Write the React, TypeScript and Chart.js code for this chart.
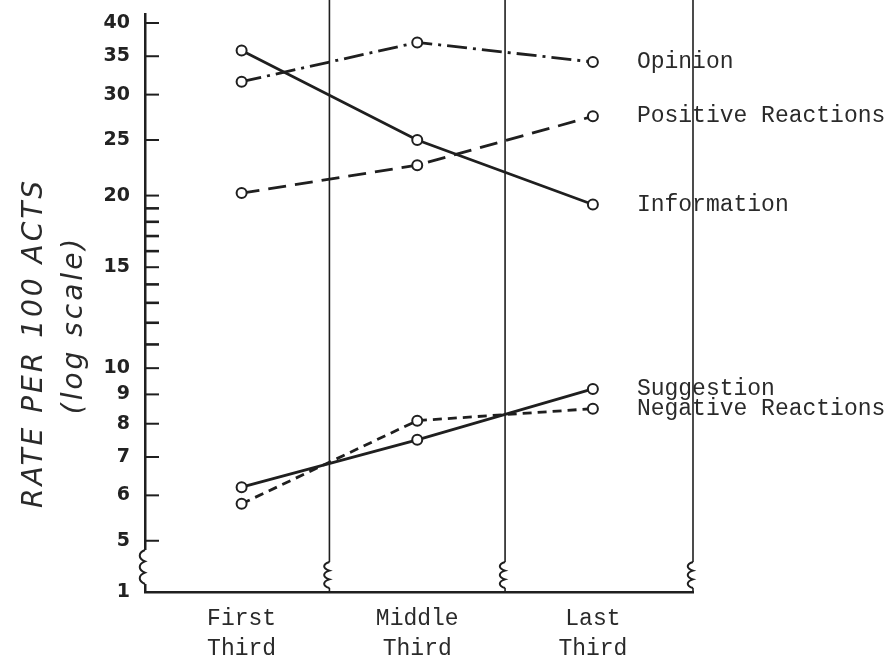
import React, { useEffect, useRef } from "react";
import { Chart, registerables } from "chart.js";

Chart.register(...registerables);

// ---- data ----
const categories = [
  ["First", "Third"],
  ["Middle", "Third"],
  ["Last", "Third"],
];
const opinion = [31.6, 37.0, 34.2];
const positiveReactions = [20.2, 22.6, 27.5];
const information = [35.8, 25.0, 19.3];
const suggestion = [6.2, 7.5, 9.2];
const negativeReactions = [5.8, 8.1, 8.5];

const yLabeledTicks = [5, 6, 7, 8, 9, 10, 15, 20, 25, 30, 35, 40];
const yMinorTicks = [11, 12, 13, 14, 16, 17, 18, 19];
const yBreakLabel = "1";
const yTitle = "RATE PER 100 ACTS";
const ySubTitle = "(log scale)";

const Y_MIN = 4.07;
const Y_MAX = 41.47;
const X_MIN = 0.45;
const X_MAX = 3.57;
const INK = "#1f1f1f";

function breakMark(ctx: CanvasRenderingContext2D, x: number, y0: number, y1: number) {
  ctx.save();
  ctx.fillStyle = "#ffffff";
  ctx.fillRect(x - 4, y0, 8, y1 - y0);
  ctx.strokeStyle = INK;
  ctx.lineWidth = 2;
  ctx.beginPath();
  ctx.moveTo(x, y0);
  const n = 3;
  const h = (y1 - y0) / n;
  for (let i = 0; i < n; i++) {
    const a = y0 + i * h;
    ctx.bezierCurveTo(x - 7, a + h * 0.25, x - 7, a + h * 0.75, x, a + h);
  }
  ctx.stroke();
  ctx.restore();
}

const decorPlugin = {
  id: "decor",
  beforeDatasetsDraw(chart: any) {
    const { ctx, chartArea } = chart;
    const xs = chart.scales.x;
    const ys = chart.scales.y;
    ctx.save();
    // inward tick marks on the y axis
    ctx.strokeStyle = INK;
    ys.ticks.forEach((t: any) => {
      if (Math.abs(t.value - Y_MIN) < 1e-6) return;
      const y = ys.getPixelForValue(t.value);
      const labeled = yLabeledTicks.includes(t.value);
      ctx.lineWidth = labeled ? 2 : 2.6;
      ctx.beginPath();
      ctx.moveTo(chartArea.left, y);
      ctx.lineTo(chartArea.left + 14, y);
      ctx.stroke();
    });
    // vertical divider lines between thirds
    ctx.lineWidth = 1.6;
    [1.5, 2.5, X_MAX].forEach((v) => {
      const x = xs.getPixelForValue(v);
      ctx.beginPath();
      ctx.moveTo(x, 0);
      ctx.lineTo(x, chartArea.bottom);
      ctx.stroke();
    });
    ctx.restore();
    // axis break marks
    breakMark(ctx, chartArea.left, chartArea.bottom - 42, chartArea.bottom - 8);
    [1.5, 2.5, X_MAX].forEach((v) => {
      breakMark(ctx, xs.getPixelForValue(v), chartArea.bottom - 30, chartArea.bottom - 4);
    });
  },
  afterDatasetsDraw(chart: any) {
    const { ctx } = chart;
    ctx.save();
    ctx.font = '23px "Liberation Mono"';
    ctx.fillStyle = "#2a2a2a";
    ctx.textAlign = "left";
    ctx.textBaseline = "middle";
    chart.data.datasets.forEach((ds: any, i: number) => {
      const meta = chart.getDatasetMeta(i);
      const last = meta.data[meta.data.length - 1];
      ctx.fillText(ds.label, last.x + 44, last.y);
    });
    ctx.restore();
  },
  afterDraw(chart: any) {
    const { ctx, chartArea } = chart;
    const mid = (chartArea.top + chartArea.bottom) / 2;
    ctx.save();
    ctx.fillStyle = "#2a2a2a";
    ctx.textAlign = "center";
    ctx.textBaseline = "middle";
    (ctx as any).letterSpacing = "3px";
    ctx.save();
    ctx.translate(chartArea.left - 110, mid + 40);
    ctx.rotate(-Math.PI / 2);
    ctx.font = 'italic 28px "DejaVu Sans"';
    ctx.fillText(yTitle, 0, 0);
    ctx.restore();
    ctx.save();
    ctx.translate(chartArea.left - 70, mid + 22);
    ctx.rotate(-Math.PI / 2);
    ctx.font = 'italic 28px "DejaVu Sans"';
    ctx.fillText(ySubTitle, 0, 0);
    ctx.restore();
    ctx.restore();
  },
};

export default function App() {
  const ref = useRef<HTMLCanvasElement>(null);
  useEffect(() => {
    const canvas = ref.current;
    if (!canvas) return;
    const mk = (label: string, values: number[], dash: number[]) => ({
      label,
      data: values.map((y, i) => ({ x: i + 1, y })),
      borderColor: INK,
      borderWidth: 2.8,
      borderDash: dash,
      pointRadius: 5,
      pointBorderWidth: 2,
      pointBackgroundColor: "#ffffff",
      pointBorderColor: INK,
      fill: false,
      tension: 0,
    });
    const chart = new Chart(canvas, {
      type: "line",
      data: {
        datasets: [
          mk("Opinion", opinion, [20, 6, 3, 6]),
          mk("Positive Reactions", positiveReactions, [18, 9]),
          mk("Information", information, []),
          mk("Suggestion", suggestion, []),
          mk("Negative Reactions", negativeReactions, [9, 6]),
        ],
      },
      options: {
        responsive: false,
        animation: false,
        devicePixelRatio: 1,
        layout: { padding: { top: 14, right: 200, left: 0, bottom: 0 } },
        plugins: {
          legend: { display: false },
          tooltip: { enabled: false },
        },
        scales: {
          x: {
            type: "linear",
            min: X_MIN,
            max: X_MAX,
            afterBuildTicks: (s: any) => {
              s.ticks = categories.map((_, i) => ({ value: i + 1 }));
            },
            afterFit: (s: any) => {
              s.height = 72;
              s.paddingLeft = 0;
              s.paddingRight = 0;
              s.paddingTop = 0;
              s.paddingBottom = 0;
            },
            ticks: {
              autoSkip: false,
              maxRotation: 0,
              padding: 12,
              color: "#2a2a2a",
              font: { family: "Liberation Mono", size: 23, lineHeight: 1.3 },
              callback: (v: any) => categories[Math.round(Number(v)) - 1] ?? "",
            },
            grid: { display: false, drawTicks: false },
            border: { display: true, color: INK, width: 2.5 },
          },
          y: {
            type: "logarithmic",
            min: Y_MIN,
            max: Y_MAX,
            afterBuildTicks: (s: any) => {
              s.ticks = [Y_MIN, ...yLabeledTicks, ...yMinorTicks]
                .sort((a, b) => a - b)
                .map((v) => ({ value: v }));
            },
            afterFit: (s: any) => {
              s.width = 145;
              s.paddingLeft = 0;
              s.paddingRight = 0;
              s.paddingTop = 0;
              s.paddingBottom = 0;
            },
            ticks: {
              autoSkip: false,
              padding: 15,
              color: "#222222",
              font: { family: "DejaVu Sans", size: 19, weight: "bold" },
              callback: (v: any) => {
                const n = Number(v);
                if (Math.abs(n - Y_MIN) < 1e-6) return yBreakLabel;
                return yLabeledTicks.includes(n) ? String(n) : "";
              },
            },
            grid: { display: false, drawTicks: false },
            border: { display: true, color: INK, width: 2.5 },
          },
        },
      } as any,
      plugins: [decorPlugin],
    });
    return () => chart.destroy();
  }, []);
  return (
    <div style={{ position: "absolute", left: 0, top: 0, width: 893, height: 664, background: "#ffffff" }}>
      <canvas ref={ref} width={893} height={664} style={{ display: "block" }} />
    </div>
  );
}
